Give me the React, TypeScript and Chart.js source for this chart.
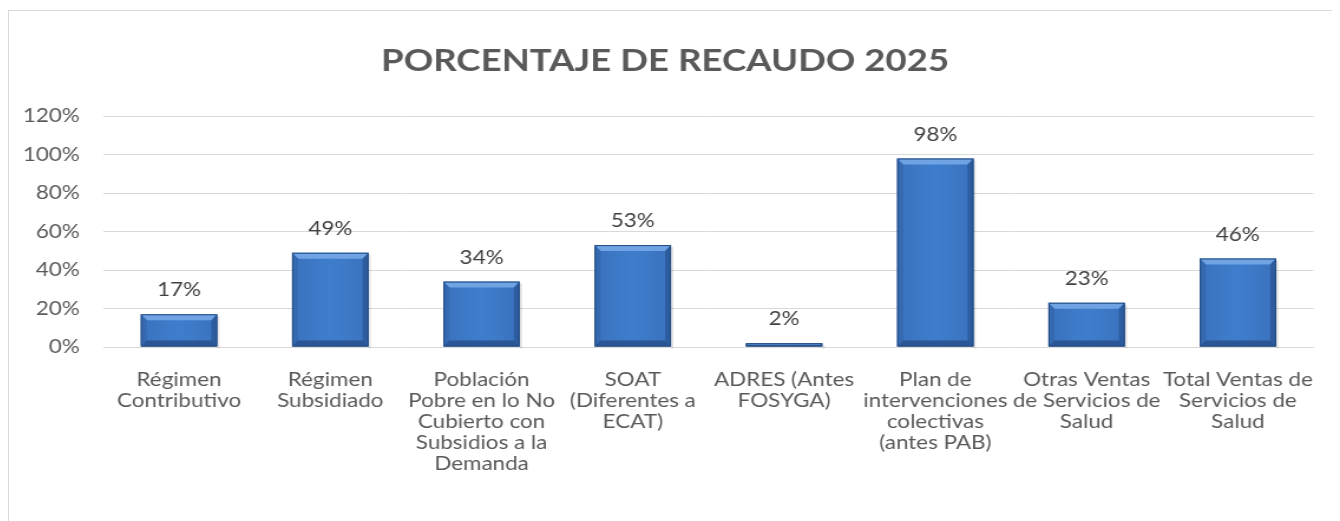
import React, { useEffect, useRef } from "react";
import { Chart, registerables } from "chart.js";

Chart.register(...registerables);

const categories: string[][] = [
  ["Régimen", "Contributivo"],
  ["Régimen", "Subsidiado"],
  ["Población", "Pobre en lo No", "Cubierto con", "Subsidios a la", "Demanda"],
  ["SOAT", "(Diferentes a", "ECAT)"],
  ["ADRES (Antes", "FOSYGA)"],
  ["Plan de", "intervenciones", "colectivas", "(antes PAB)"],
  ["Otras Ventas", "de Servicios de", "Salud"],
  ["Total Ventas de", "Servicios de", "Salud"],
];
const recaudo: number[] = [17, 49, 34, 53, 2, 98, 23, 46];
const yTicks: number[] = [0, 20, 40, 60, 80, 100, 120];
const titleText = "PORCENTAJE DE RECAUDO 2025";

const FONT = "Lato, 'Open Sans', sans-serif";
// the reference is drawn horizontally widened; render narrower and stretch via CSS
const CANVAS_W = 1128;
const CANVAS_H = 510;
const DISPLAY_W = 1331;

const bevelPlugin = {
  id: "bevel",
  afterDatasetsDraw(chart: any) {
    const ctx = chart.ctx;
    const meta = chart.getDatasetMeta(0);
    meta.data.forEach((bar: any) => {
      const { x, y, base, width } = bar.getProps(["x", "y", "base", "width"], true);
      const l = x - width / 2;
      const r = x + width / 2;
      const t = Math.min(y, base);
      const b = Math.max(y, base);
      const h = b - t;
      const bwx = Math.min(5, h / 2);
      const bwy = Math.min(6, h / 2);
      ctx.save();
      ctx.fillStyle = "rgba(0,0,0,0.10)";
      ctx.fillRect(r, t + 2, 2, h);
      const g = ctx.createLinearGradient(l, 0, r, 0);
      g.addColorStop(0, "#3a72bd");
      g.addColorStop(0.5, "#3f7ecd");
      g.addColorStop(1, "#3a72bd");
      ctx.fillStyle = g;
      ctx.fillRect(l, t, width, h);
      ctx.fillStyle = "#6fa3e3";
      ctx.beginPath();
      ctx.moveTo(l, t);
      ctx.lineTo(r, t);
      ctx.lineTo(r - bwx, t + bwy);
      ctx.lineTo(l + bwx, t + bwy);
      ctx.closePath();
      ctx.fill();
      ctx.fillStyle = "#3569b0";
      ctx.beginPath();
      ctx.moveTo(l, t);
      ctx.lineTo(l + bwx, t + bwy);
      ctx.lineTo(l + bwx, b - bwy);
      ctx.lineTo(l, b);
      ctx.closePath();
      ctx.fill();
      ctx.fillStyle = "#2d5d9e";
      ctx.beginPath();
      ctx.moveTo(r, t);
      ctx.lineTo(r - bwx, t + bwy);
      ctx.lineTo(r - bwx, b - bwy);
      ctx.lineTo(r, b);
      ctx.closePath();
      ctx.fill();
      ctx.fillStyle = "#2a5695";
      ctx.beginPath();
      ctx.moveTo(l, b);
      ctx.lineTo(l + bwx, b - bwy);
      ctx.lineTo(r - bwx, b - bwy);
      ctx.lineTo(r, b);
      ctx.closePath();
      ctx.fill();
      ctx.strokeStyle = "#244a80";
      ctx.lineWidth = 1;
      ctx.strokeRect(l + 0.5, t + 0.5, width - 1, h - 1);
      ctx.restore();
    });
  },
};

const labelPlugin = {
  id: "valueLabels",
  afterDatasetsDraw(chart: any) {
    const ctx = chart.ctx;
    const meta = chart.getDatasetMeta(0);
    const data = chart.data.datasets[0].data as number[];
    ctx.save();
    ctx.font = `19px ${FONT}`;
    ctx.fillStyle = "#404040";
    ctx.textAlign = "center";
    ctx.textBaseline = "middle";
    meta.data.forEach((bar: any, i: number) => {
      ctx.fillText(`${data[i]}%`, bar.x, bar.y - 24);
    });
    ctx.restore();
  },
};

export default function App() {
  const ref = useRef<HTMLCanvasElement | null>(null);
  useEffect(() => {
    document.documentElement.style.overflow = "hidden";
    document.body.style.overflow = "hidden";
    const canvas = ref.current!;
    const chart = new Chart(canvas, {
      type: "bar",
      data: {
        labels: categories,
        datasets: [
          {
            data: recaudo,
            backgroundColor: "rgba(0,0,0,0)",
            borderWidth: 0,
            categoryPercentage: 1,
            barPercentage: 0.505,
          },
        ],
      },
      options: {
        responsive: false,
        animation: false,
        layout: { padding: { left: 0, right: 16, top: 0, bottom: 25 } },
        plugins: {
          legend: { display: false },
          tooltip: { enabled: false },
          title: {
            display: true,
            text: titleText,
            color: "#595959",
            font: { family: FONT, size: 31, weight: "bold", lineHeight: 1.2 },
            padding: { top: 31, bottom: 37 },
          },
        },
        scales: {
          x: {
            grid: { display: false, drawTicks: false },
            border: { display: true, color: "#d9d9d9" },
            ticks: {
              color: "#595959",
              font: { family: FONT, size: 19, lineHeight: "21px" as any },
              padding: 22,
              maxRotation: 0,
              minRotation: 0,
              autoSkip: false,
            },
          },
          y: {
            min: 0,
            max: 120,
            afterBuildTicks: (scale: any) => {
              scale.ticks = yTicks.map((v) => ({ value: v }));
            },
            afterFit: (scale: any) => {
              scale.width = 80;
            },
            grid: { color: "#d9d9d9", drawTicks: false, lineWidth: 1 },
            border: { display: false },
            ticks: {
              color: "#595959",
              font: { family: FONT, size: 19 },
              padding: 20,
              callback: (v: any) => `${v}%`,
            },
          },
        },
      },
      plugins: [bevelPlugin, labelPlugin],
    });
    return () => chart.destroy();
  }, []);

  return (
    <div
      style={{
        marginTop: 2,
        width: 1340,
        height: 520,
        border: "1px solid #d9d9d9",
        boxSizing: "border-box",
        background: "#fff",
      }}
    >
      <canvas
        ref={ref}
        width={CANVAS_W}
        height={CANVAS_H}
        style={{ display: "block", width: `${DISPLAY_W}px`, height: `${CANVAS_H}px` }}
      />
    </div>
  );
}
